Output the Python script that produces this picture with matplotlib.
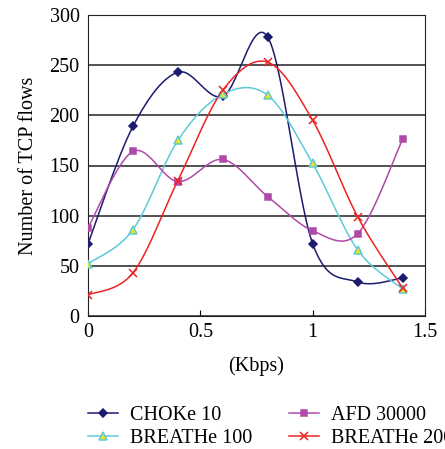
import numpy as np
import matplotlib
matplotlib.use('Agg')
import matplotlib.pyplot as plt
from matplotlib.lines import Line2D

# data
rate = [0, 0.2, 0.4, 0.6, 0.8, 1.0, 1.2, 1.4]
choke10 = [72, 189, 243, 219, 278, 72, 34, 38]
afd30000 = [88, 164, 134, 156, 119, 85, 82, 176]
breathe100 = [52, 86, 175, 221, 220, 152, 66, 27]
breathe200 = [21, 43, 135, 225, 253, 195, 99, 28]

plt.rcParams['font.family'] = ['Liberation Serif', 'DejaVu Serif']


def smooth(x, y, n=30):
    # Catmull-Rom style smoothing, like a spreadsheet "smoothed line"
    x = np.asarray(x, float)
    y = np.asarray(y, float)
    xs, ys = [], []
    for i in range(len(x) - 1):
        p0 = np.array([x[max(i - 1, 0)], y[max(i - 1, 0)]])
        p1 = np.array([x[i], y[i]])
        p2 = np.array([x[i + 1], y[i + 1]])
        p3 = np.array([x[min(i + 2, len(x) - 1)], y[min(i + 2, len(x) - 1)]])
        c1 = p1 + (p2 - p0) / 6
        c2 = p2 - (p3 - p1) / 6
        t = np.linspace(0, 1, n)[:, None]
        pts = ((1 - t) ** 3) * p1 + 3 * ((1 - t) ** 2) * t * c1 + 3 * (1 - t) * t ** 2 * c2 + t ** 3 * p2
        xs.extend(pts[:, 0])
        ys.extend(pts[:, 1])
    return xs, ys


fig = plt.figure(figsize=(4.45, 4.49), dpi=100)
ax = fig.add_axes([88 / 445, 1 - 316 / 449, 337 / 445, 301 / 449])

series = [
    (choke10, 'CHOKe 10', '#1c1c6e', 'D', '#1c1c6e', '#1c1c6e', 4.2),
    (breathe100, 'BREATHe 100', '#5ccbd8', '^', '#f0e020', '#5ccbd8', 5.5),
    (afd30000, 'AFD 30000', '#b04aa8', 's', '#b04aa8', '#b04aa8', 5),
    (breathe200, 'BREATHe 200', '#ee2222', 'x', '#ee2222', '#ee2222', 6),
]

handles = []
for y, lab, col, mk, fc, ec, ms in series:
    sx, sy = smooth(rate, y)
    ax.plot(sx, sy, color=col, lw=1.1, zorder=3)
    ax.plot(rate, y, ls='none', marker=mk, mfc=fc, mec=ec, ms=ms, mew=1.1, zorder=4)
    handles.append(Line2D([], [], color=col, lw=1.1, marker=mk, mfc=fc, mec=ec, ms=ms, mew=1.1, label=lab))

ax.set_xlim(0, 1.5)
ax.set_ylim(0, 300)
ax.set_xticks([0, 0.5, 1, 1.5])
ax.set_xticklabels(['0', '0.5', '1', '1.5'])
ax.set_yticks(range(0, 301, 50))
ax.yaxis.grid(True, color='#222222', lw=1.1)
ax.set_axisbelow(True)
ax.tick_params(axis='x', direction='in', length=4, labelsize=14.5, pad=5)
ax.tick_params(axis='y', length=0, labelsize=14.5, pad=6)
for s in ax.spines.values():
    s.set_color('#222222')
ax.set_xlabel('(Kbps)', fontsize=14.5, labelpad=10)
ax.set_ylabel('Number of TCP flows', fontsize=14.5, labelpad=8)

fig.legend(handles=handles, ncol=2, loc='upper left', bbox_to_anchor=(80 / 445, 1 - 398 / 449),
           frameon=False, fontsize=14.5, handlelength=1.5, columnspacing=1.8, labelspacing=0.2,
           handletextpad=0.6, borderaxespad=0)

fig.savefig('out.png', dpi=100)
